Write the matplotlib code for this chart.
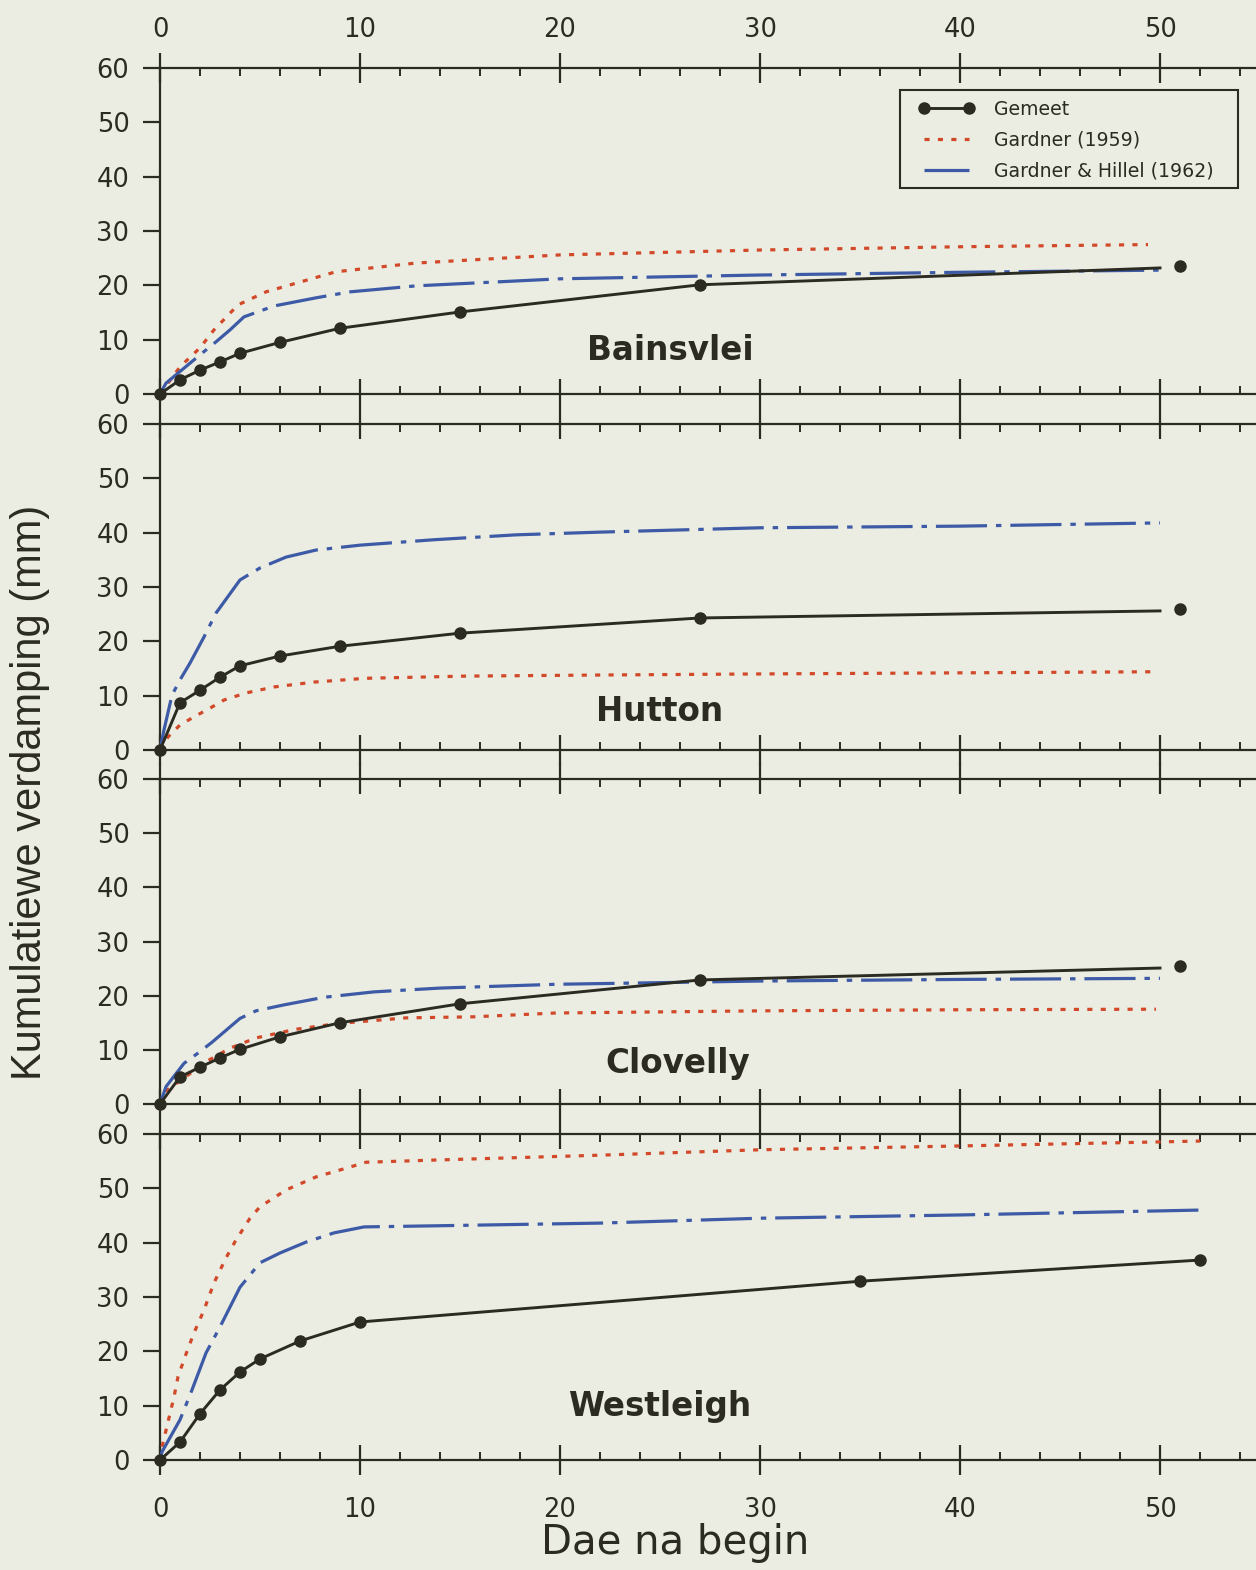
import matplotlib
matplotlib.use("Agg")
import matplotlib.pyplot as plt
from matplotlib.ticker import MultipleLocator
from matplotlib.lines import Line2D
from matplotlib.patches import Rectangle

BG = "#ebece2"
INK = "#2b2b22"
RED = "#d2492a"
BLUE = "#3d5aa6"

plt.rcParams["font.family"] = ["DejaVu Sans"]
plt.rcParams["text.color"] = INK
plt.rcParams["xtick.color"] = INK
plt.rcParams["ytick.color"] = INK

soils = ["Bainsvlei", "Hutton", "Clovelly", "Westleigh"]

# Gemeet (measured): points with markers; line_end = where the drawn line stops
bains_gem_x = [0, 1, 2, 3, 4, 6, 9, 15, 27, 51]
bains_gem_y = [0, 2.6, 4.4, 5.9, 7.5, 9.5, 12.1, 15.1, 20.1, 23.6]
bains_line_end = (50, 23.2)
hutton_gem_x = [0, 1, 2, 3, 4, 6, 9, 15, 27, 51]
hutton_gem_y = [0, 8.7, 11.0, 13.4, 15.5, 17.3, 19.1, 21.5, 24.3, 26.0]
hutton_line_end = (50, 25.6)
clov_gem_x = [0, 1, 2, 3, 4, 6, 9, 15, 27, 51]
clov_gem_y = [0, 5.0, 6.8, 8.5, 10.1, 12.4, 15.0, 18.5, 22.9, 25.4]
clov_line_end = (50, 25.1)
west_gem_x = [0, 1, 2, 3, 4, 5, 7, 10, 35, 52]
west_gem_y = [0, 3.3, 8.5, 12.9, 16.2, 18.6, 21.9, 25.4, 32.9, 36.8]
west_line_end = None

# Gardner (1959)
bains_g59_x = [0, 1, 2, 2.7, 3.9, 5.3, 7, 8.8, 12.8, 20, 30, 40, 49.4]
bains_g59_y = [0, 5.0, 8.5, 11.8, 16.4, 18.8, 20.6, 22.5, 24.1, 25.6, 26.5, 27.1, 27.5]
hutton_g59_x = [0, 0.4, 1, 1.7, 2.5, 3.2, 4.3, 5.7, 7.7, 10.3, 15.3, 22, 30, 40, 49.6]
hutton_g59_y = [0, 2.4, 4.6, 6.1, 7.7, 9.2, 10.5, 11.6, 12.5, 13.2, 13.6, 13.8, 14.0, 14.2, 14.4]
clov_g59_x = [0, 0.25, 1.2, 2.3, 3.5, 4.8, 6.8, 9, 12.3, 15.7, 19.8, 30, 40, 49.8]
clov_g59_y = [0, 2.3, 4.8, 7.8, 10.3, 12.2, 13.8, 14.9, 15.9, 16.1, 16.8, 17.2, 17.4, 17.5]
west_g59_x = [0, 0.1, 0.4, 0.7, 0.9, 1.25, 1.7, 2.2, 2.7, 3.3, 3.8, 4.5, 5, 6.3, 7.8,
              9.3, 10.3, 13.7, 22, 30, 40, 52]
west_g59_y = [0, 2.4, 7.0, 11.6, 15.3, 19.0, 23.4, 27.6, 32.6, 37.2, 40.5, 44.5, 46.6,
              49.7, 52.1, 53.7, 54.8, 55.2, 56.1, 57.1, 57.8, 58.7]

# Gardner & Hillel (1962)
bains_gh_x = [0, 0.3, 2, 2.8, 3.5, 4.2, 5.7, 7.8, 9.5, 12.8, 20, 30, 40, 50]
bains_gh_y = [0, 2, 7.2, 9.6, 11.8, 14.2, 16.2, 17.7, 18.8, 19.9, 21.2, 21.9, 22.4, 22.8]
hutton_gh_x = [0, 0.2, 0.6, 1, 1.5, 2.2, 2.8, 4, 5, 6.3, 7.8, 10, 13.7, 17.8, 22, 30, 40, 50]
hutton_gh_y = [0, 3.7, 10.1, 12.9, 16.0, 20.8, 25.2, 31.3, 33.5, 35.5, 36.8, 37.7, 38.7,
               39.6, 40.1, 40.9, 41.2, 41.8]
clov_gh_x = [0, 0.3, 1.2, 1.9, 2.6, 3.3, 4, 4.8, 6.2, 8.2, 10.7, 14, 17.3, 19.8, 30, 40, 50]
clov_gh_y = [0, 3.2, 7.5, 9.4, 11.4, 13.6, 15.8, 17.2, 18.3, 19.7, 20.7, 21.4, 21.8, 22.1,
             22.7, 23.0, 23.2]
west_gh_x = [0, 0.1, 1, 1.6, 2.3, 3, 4, 5, 6, 7.3, 8.7, 10.2, 13.7, 22, 30, 40, 52]
west_gh_y = [0, 1.5, 7.4, 12.9, 19.7, 24.5, 31.8, 36.3, 38.1, 40.1, 41.8, 42.9, 43.1,
             43.6, 44.5, 45.1, 46.0]

panels = [
    (bains_gem_x, bains_gem_y, bains_line_end, bains_g59_x, bains_g59_y, bains_gh_x, bains_gh_y),
    (hutton_gem_x, hutton_gem_y, hutton_line_end, hutton_g59_x, hutton_g59_y, hutton_gh_x, hutton_gh_y),
    (clov_gem_x, clov_gem_y, clov_line_end, clov_g59_x, clov_g59_y, clov_gh_x, clov_gh_y),
    (west_gem_x, west_gem_y, west_line_end, west_g59_x, west_g59_y, west_gh_x, west_gh_y),
]
# label anchor (data coords) per panel
label_pos = [(25.5, 8.0), (25.0, 7.0), (25.9, 7.4), (25.0, 9.9)]

W, H = 1256, 1570
fig = plt.figure(figsize=(W / 100, H / 100), dpi=100)
fig.patch.set_facecolor(BG)

tops = [68, 424, 779, 1134]
bots = [394, 750, 1104, 1460]
left_px = 160

RED_LS = (0, (1.6, 2.6))
BLUE_LS = (0, (16, 2.8, 1.7, 2.8))

axes = []
for i, (gx, gy, lend, rx, ry, bx, by) in enumerate(panels):
    ax = fig.add_axes([left_px / W, 1 - bots[i] / H, 1 - left_px / W, (bots[i] - tops[i]) / H])
    ax.set_facecolor("none")
    ax.set_xlim(0, 54.8)
    ax.set_ylim(0, 60)

    ax.plot(rx, ry, color=RED, lw=2.3, linestyle=RED_LS, clip_on=False, zorder=3)
    ax.plot(bx, by, color=BLUE, lw=2.3, linestyle=BLUE_LS, clip_on=False, zorder=3)
    if lend is None:
        ax.plot(gx, gy, color=INK, lw=2.1, clip_on=False, zorder=4)
    else:
        ax.plot(list(gx[:-1]) + [lend[0]], list(gy[:-1]) + [lend[1]],
                color=INK, lw=2.1, clip_on=False, zorder=4)
    ax.plot(gx, gy, "o", color=INK, ms=8, clip_on=False, zorder=5)

    ax.text(label_pos[i][0], label_pos[i][1], soils[i], fontsize=23.5,
            fontweight="bold", ha="center", va="center", color=INK)

    ax.spines["right"].set_visible(False)
    for s in ("left", "top", "bottom"):
        ax.spines[s].set_linewidth(1.6)
        ax.spines[s].set_color(INK)

    ax.set_xticks(range(0, 51, 10))
    ax.xaxis.set_minor_locator(MultipleLocator(2))
    ax.set_yticks(range(0, 61, 10))
    ax.tick_params(axis="x", which="major", direction="inout", length=21.5,
                   width=1.6, top=True, bottom=True, labelsize=18.5,
                   labeltop=(i == 0), labelbottom=(i == 3),
                   pad=(7.5 if i == 0 else 16))
    ax.tick_params(axis="x", which="minor", direction="in", length=5.8,
                   width=1.4, top=True, bottom=True)
    ax.tick_params(axis="y", which="major", direction="out", length=12,
                   width=1.6, right=False, labelsize=18.5, pad=10)
    axes.append(ax)

# legend: entries without frame, box drawn separately
handles = [
    Line2D([], [], color=INK, lw=2.1, marker="o", ms=8),
    Line2D([], [], color=RED, lw=2.3, linestyle=RED_LS),
    Line2D([], [], color=BLUE, lw=2.3, linestyle=BLUE_LS),
]
leg = axes[0].legend(handles, ["Gemeet", "Gardner (1959)", "Gardner & Hillel (1962)"],
                     loc="upper left", bbox_to_anchor=(918 / W, 1 - 100 / H),
                     bbox_transform=fig.transFigure, fontsize=13.6, frameon=False,
                     handlelength=3.0, handletextpad=1.0, labelspacing=0.62,
                     borderpad=0, numpoints=2, borderaxespad=0)
fig.add_artist(Rectangle((900 / W, 1 - 188 / H), 338 / W, 98 / H,
                         transform=fig.transFigure, facecolor="none",
                         edgecolor=INK, linewidth=1.5, zorder=6))

fig.text(675 / W, 1 - 1543 / H, "Dae na begin", fontsize=29, ha="center",
         va="center", color=INK)
fig.text(30 / W, 1 - 792 / H, "Kumulatiewe verdamping (mm)", fontsize=30,
         rotation=90, ha="center", va="center", color=INK,
         family=["Liberation Sans", "DejaVu Sans"])

fig.savefig("out.png", dpi=100, facecolor=BG)
